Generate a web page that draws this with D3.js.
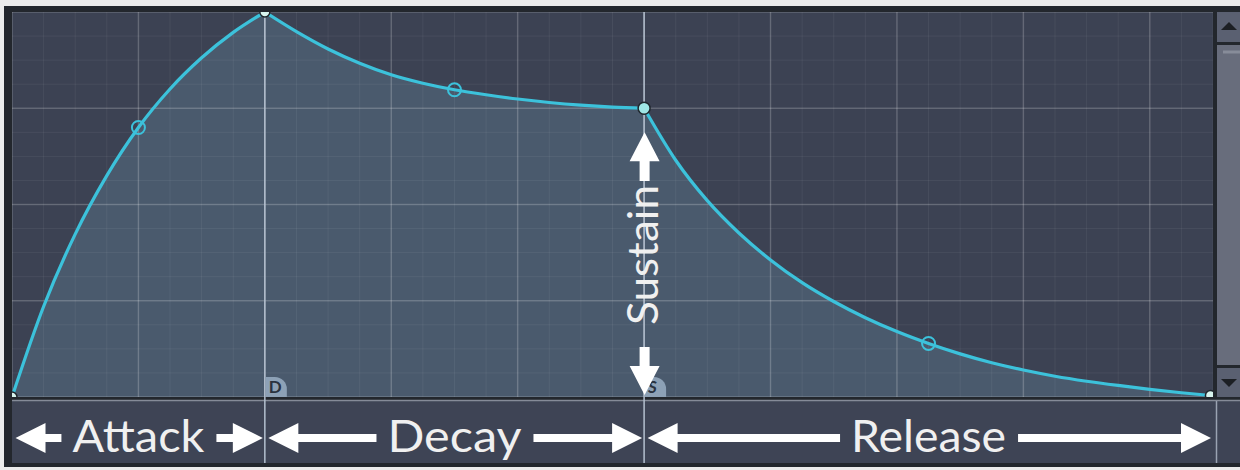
<!DOCTYPE html>
<html>
<head>
<meta charset="utf-8">
<script src="https://cdn.jsdelivr.net/npm/d3@7"></script>
<style>
  html, body { margin: 0; padding: 0; background: #ececec; }
  svg { display: block; }
</style>
</head>
<body>
<div id="chart"></div>
<script>
// envelope: time in grid units, level 0..1
const attackT = [0, 0.25, 0.5, 0.75, 1, 1.25, 1.5, 1.75, 2];
const attackL = [0, 0.235, 0.423, 0.575, 0.70, 0.80, 0.881, 0.947, 1];
const decayT = [2, 2.25, 2.5, 2.75, 3, 3.25, 3.5, 3.75, 4, 4.25, 4.5, 4.75, 5];
const decayL = [1, 0.949, 0.904, 0.867, 0.837, 0.815, 0.798, 0.785, 0.774, 0.765, 0.758, 0.753, 0.75];
const releaseT = [5, 5.25, 5.5, 5.75, 6, 6.25, 6.5, 6.75, 7, 7.25, 7.5, 7.75, 8, 8.25, 8.5, 8.75, 9, 9.25, 9.48];
const releaseL = [0.75, 0.615, 0.51, 0.426, 0.356, 0.297, 0.248, 0.206, 0.17, 0.139, 0.112, 0.089, 0.07, 0.054, 0.041, 0.03, 0.02, 0.011, 0.004];

const nodeT = [0, 2, 5, 9.48];
const nodeL = [0, 1, 0.75, 0.004];
const handleT = [1, 3.5, 7.25];
const handleL = [0.70, 0.798, 0.139];

const stages = ["Attack", "Decay", "Release"];
const stageWidth = [132, 134, 155];
const tabLabels = ["D", "S"];

const svgWidth = 1240;
const svgHeight = 470;
const plot = { left: 12, right: 1213, top: 12, bottom: 397 };
const panel = { top: 401, bottom: 463 };

const xScale = d3.scaleLinear().domain([0, 9.5]).range([plot.left, plot.right]);
const yScale = d3.scaleLinear().domain([0, 1]).range([plot.bottom, plot.top]);

const zip = (ts, ls) => ts.map((t, i) => ({ t: t, l: ls[i] }));
const segments = [zip(attackT, attackL), zip(decayT, decayL), zip(releaseT, releaseL)];

const svg = d3.select("#chart").append("svg")
    .attr("width", svgWidth)
    .attr("height", svgHeight);

const defs = svg.append("defs");
defs.append("clipPath").attr("id", "plotclip")
    .append("rect")
    .attr("x", plot.left).attr("y", plot.top)
    .attr("width", plot.right - plot.left).attr("height", plot.bottom - plot.top);

// dark frame
svg.append("rect")
    .attr("x", 4).attr("y", 6)
    .attr("width", svgWidth - 4).attr("height", 461)
    .attr("fill", "#23272d");

const g = svg.append("g").attr("clip-path", "url(#plotclip)");

g.append("rect")
    .attr("x", plot.left).attr("y", plot.top)
    .attr("width", plot.right - plot.left).attr("height", plot.bottom - plot.top)
    .attr("fill", "#3c4253");

// area under the envelope
const line = d3.line()
    .x(d => xScale(d.t))
    .y(d => yScale(d.l))
    .curve(d3.curveMonotoneX);

const curvePath = segments.map((s, i) => {
    const p = line(s);
    return i === 0 ? p : p.replace(/^M/, "L");
}).join("");

const last = segments[2][segments[2].length - 1];
g.append("path")
    .attr("d", curvePath + "L" + xScale(last.t) + "," + yScale(0) + "L" + xScale(0) + "," + yScale(0) + "Z")
    .attr("fill", "#4a5a6d");

// grid
const minorX = d3.range(0, 9.51, 0.25);
const majorX = d3.range(0, 10, 1);
const minorY = d3.range(0, 1.001, 1 / 16);
const majorY = d3.range(0, 1.001, 0.25);

g.append("g").selectAll("line").data(minorX).enter().append("line")
    .attr("x1", d => xScale(d)).attr("x2", d => xScale(d))
    .attr("y1", plot.top).attr("y2", plot.bottom)
    .attr("stroke", "#ffffff").attr("stroke-opacity", 0.06).attr("stroke-width", 1);
g.append("g").selectAll("line").data(minorY).enter().append("line")
    .attr("y1", d => yScale(d)).attr("y2", d => yScale(d))
    .attr("x1", plot.left).attr("x2", plot.right)
    .attr("stroke", "#ffffff").attr("stroke-opacity", 0.06).attr("stroke-width", 1);
g.append("g").selectAll("line").data(majorX).enter().append("line")
    .attr("x1", d => xScale(d)).attr("x2", d => xScale(d))
    .attr("y1", plot.top).attr("y2", plot.bottom)
    .attr("stroke", "#ffffff").attr("stroke-opacity", 0.17).attr("stroke-width", 1.5);
g.append("g").selectAll("line").data(majorY).enter().append("line")
    .attr("y1", d => yScale(d)).attr("y2", d => yScale(d))
    .attr("x1", plot.left).attr("x2", plot.right)
    .attr("stroke", "#ffffff").attr("stroke-opacity", 0.17).attr("stroke-width", 1.5);

// bottom panel
svg.append("rect")
    .attr("x", plot.left).attr("y", panel.top)
    .attr("width", svgWidth - plot.left).attr("height", panel.bottom - panel.top)
    .attr("fill", "#3e4455");
svg.append("line")
    .attr("x1", plot.left).attr("x2", svgWidth)
    .attr("y1", 400.5).attr("y2", 400.5)
    .attr("stroke", "#858b98").attr("stroke-width", 1.5);

// stage boundaries (D, S and end)
const bounds = [nodeT[1], nodeT[2]];
svg.append("g").selectAll("line").data(bounds).enter().append("line")
    .attr("x1", d => xScale(d)).attr("x2", d => xScale(d))
    .attr("y1", plot.top).attr("y2", panel.bottom)
    .attr("stroke", "#b4c0cf").attr("stroke-width", 1.5);
svg.append("line")
    .attr("x1", plot.right + 3.5).attr("x2", plot.right + 3.5)
    .attr("y1", panel.top).attr("y2", panel.bottom)
    .attr("stroke", "#9aa3b2").attr("stroke-width", 1.5);

// D / S tabs
const tabs = svg.append("g").selectAll("g").data(bounds).enter().append("g")
    .attr("transform", d => "translate(" + xScale(d) + "," + plot.bottom + ")");
tabs.append("path")
    .attr("d", "M0.75,0 V-20 H10 A12,12 0 0 1 22,-8 V0 Z")
    .attr("fill", "#8da1b6");
tabs.append("text")
    .attr("x", 4).attr("y", -4)
    .attr("font-family", "Lato, sans-serif")
    .attr("font-size", 17)
    .attr("font-weight", 700)
    .attr("font-style", (d, i) => i === 1 ? "italic" : "normal")
    .attr("fill", "#2a323e")
    .text((d, i) => tabLabels[i]);

// envelope line
const cg = svg.append("g").attr("clip-path", "url(#plotclip)");
cg.append("path")
    .attr("d", curvePath)
    .attr("fill", "none")
    .attr("stroke", "#3cc2db")
    .attr("stroke-width", 3.2)
    .attr("stroke-linejoin", "round");

// handles
cg.selectAll(".handle").data(handleT).enter().append("circle")
    .attr("class", "handle")
    .attr("cx", d => xScale(d))
    .attr("cy", (d, i) => yScale(handleL[i]))
    .attr("r", 6.5)
    .attr("fill", "none")
    .attr("stroke", "#3cc2db")
    .attr("stroke-width", 2);

// nodes
cg.selectAll(".node").data(nodeT).enter().append("circle")
    .attr("class", "node")
    .attr("cx", d => xScale(d))
    .attr("cy", (d, i) => yScale(nodeL[i]))
    .attr("r", (d, i) => i === 2 ? 6 : 5)
    .attr("fill", (d, i) => i === 2 ? "#9fe6e6" : "#d8f4ee")
    .attr("stroke", "#1f262c")
    .attr("stroke-width", 1.5);

// arrows
const white = "#ffffff";
const hArrow = (tip, tail, yc) => {
    const dir = tip > tail ? 1 : -1;
    const head = 30, half = 15, sh = 4;
    const hb = tip - dir * head;
    const pts = [[tip, yc], [hb, yc - half], [hb, yc - sh], [tail, yc - sh], [tail, yc + sh], [hb, yc + sh], [hb, yc + half]];
    svg.append("polygon").attr("points", pts.map(p => p.join(",")).join(" ")).attr("fill", white);
};
const vArrow = (tip, tail, xc) => {
    const dir = tip > tail ? 1 : -1;
    const head = 29, half = 15, sh = 5;
    const hb = tip - dir * head;
    const pts = [[xc, tip], [xc - half, hb], [xc - sh, hb], [xc - sh, tail], [xc + sh, tail], [xc + sh, hb], [xc + half, hb]];
    svg.append("polygon").attr("points", pts.map(p => p.join(",")).join(" ")).attr("fill", white);
};

const arrowY = 438;
const textBase = 452;
stages.forEach((s, i) => {
    const x0 = xScale(nodeT[i]);
    const x1 = i === 2 ? plot.right : xScale(nodeT[i + 1]);
    const cx = (x0 + x1) / 2;
    const w = stageWidth[i];
    svg.append("text")
        .attr("x", cx).attr("y", textBase)
        .attr("text-anchor", "middle")
        .attr("font-family", "Lato, sans-serif")
        .attr("font-size", 44)
        .attr("fill", "#f0f0f0")
        .attr("textLength", w)
        .attr("lengthAdjust", "spacingAndGlyphs")
        .text(s);
    hArrow(x0 + 3.5, cx - w / 2 - 11, arrowY);
    hArrow(x1 - 2, cx + w / 2 + 12, arrowY);
});

// sustain label
const sx = xScale(nodeT[2]) + 0.5;
const sy = yScale(nodeL[2]);
vArrow(sy + 24, 181, sx);
vArrow(plot.bottom - 2, 347, sx);
svg.append("text")
    .attr("transform", "translate(" + (sx + 13) + "," + 255 + ") rotate(-90)")
    .attr("text-anchor", "middle")
    .attr("font-family", "Lato, sans-serif")
    .attr("font-size", 42)
    .attr("fill", "#f0f0f0")
    .attr("textLength", 140)
    .attr("lengthAdjust", "spacingAndGlyphs")
    .text("Sustain");

// scrollbar
const sbx = plot.right + 4;
const sbw = svgWidth - sbx;
svg.append("rect").attr("x", sbx).attr("y", plot.top).attr("width", sbw).attr("height", 30).attr("fill", "#5a6071");
svg.append("rect").attr("x", sbx).attr("y", 45).attr("width", sbw).attr("height", 320).attr("fill", "#686d7c");
svg.append("line").attr("x1", sbx + 6).attr("x2", svgWidth).attr("y1", 52).attr("y2", 52)
    .attr("stroke", "#878c99").attr("stroke-width", 3);
svg.append("rect").attr("x", sbx).attr("y", 368).attr("width", sbw).attr("height", 29).attr("fill", "#5a6071");
svg.append("polygon")
    .attr("points", [[sbx + 12, 22], [sbx + 4, 30], [sbx + 20, 30]].map(p => p.join(",")).join(" "))
    .attr("fill", "#1c1f24");
svg.append("polygon")
    .attr("points", [[sbx + 4, 379], [sbx + 20, 379], [sbx + 12, 387]].map(p => p.join(",")).join(" "))
    .attr("fill", "#1c1f24");
</script>
</body>
</html>
